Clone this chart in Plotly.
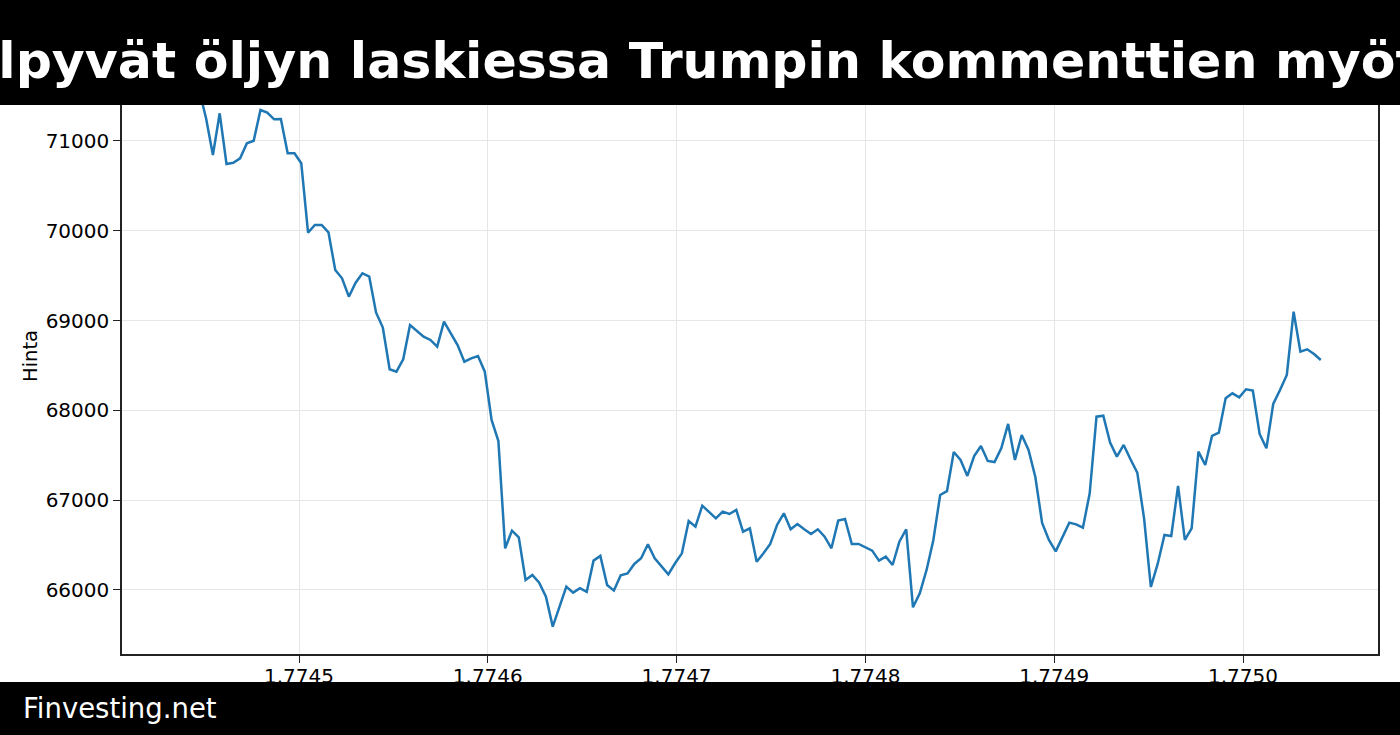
import plotly.graph_objects as go

# ---- data -------------------------------------------------------------
start_ts = 1774436400          # first hourly timestamp (seconds)
step_s = 3600                  # hourly observations
prices = [
    71650, 71840, 71700, 71560, 71250, 70844, 71308, 70744, 70758, 70807,
    70974, 71003, 71345, 71315, 71241, 71245, 70863, 70863, 70752, 69979,
    70065, 70065, 69983, 69563, 69471, 69266, 69422, 69527, 69490, 69090,
    68923, 68458, 68431, 68569, 68951, 68888, 68821, 68784, 68710, 68988,
    68858, 68728, 68542, 68580, 68606, 68431, 67893, 67659, 66464, 66661,
    66587, 66111, 66167, 66082, 65926, 65592, 65814, 66037, 65970, 66019,
    65978, 66327, 66379, 66056, 65993, 66163, 66185, 66290, 66353, 66509,
    66353, 66260, 66174, 66297, 66408, 66768, 66705, 66939, 66872, 66798,
    66872, 66846, 66891, 66649, 66686, 66315, 66408, 66512, 66724, 66854,
    66676, 66735, 66676, 66624, 66676, 66594, 66464, 66772, 66791, 66512,
    66512, 66471, 66438, 66327, 66371, 66278, 66538, 66676, 65807, 65963,
    66223, 66557, 67058, 67100, 67537, 67448, 67270, 67492, 67604, 67437,
    67425, 67581, 67849, 67448, 67726, 67559, 67258, 66746, 66557, 66430,
    66594, 66750, 66731, 66694, 67077, 67930, 67941, 67641, 67485, 67615,
    67455, 67307, 66798, 66033, 66290, 66612, 66601, 67158, 66557, 66687,
    67540, 67392, 67715, 67752, 68134, 68190, 68145, 68235, 68220, 67737,
    67578, 68071, 68227, 68394, 69099, 68654, 68680, 68628, 68561,
]
times = [(start_ts + i * step_s) / 1e9 for i in range(len(prices))]

x_tick_vals = [1.7745, 1.7746, 1.7747, 1.7748, 1.7749, 1.7750]
x_tick_labels = ["1.7745", "1.7746", "1.7747", "1.7748", "1.7749", "1.7750"]
y_tick_vals = [66000, 67000, 68000, 69000, 70000, 71000]
y_tick_labels = ["66000", "67000", "68000", "69000", "70000", "71000"]

title_text = "elpyvät öljyn laskiessa Trumpin kommenttien myötä"
y_label = "Hinta"
source_text = "Finvesting.net"

# ---- layout geometry -------------------------------------------------
W, H = 1400, 735
L, R, T, B = 122, 22, 58, 81
PW, PH = W - L - R, H - T - B


def px_x(px):
    return (px - L) / PW


def px_y(py):
    return (H - B - py) / PH


fig = go.Figure()
fig.add_trace(go.Scatter(
    x=times, y=prices, mode="lines",
    line=dict(color="#1f77b4", width=2.5),
    hoverinfo="skip", showlegend=False,
))

axis_font = dict(family="DejaVu Sans", size=20, color="#000000")

fig.update_layout(
    width=W, height=H,
    margin=dict(l=L, r=R, t=T, b=B, autoexpand=False),
    paper_bgcolor="white", plot_bgcolor="white",
    showlegend=False,
    xaxis=dict(
        range=[1.77440625, 1.7750715],
        tickvals=x_tick_vals, ticktext=x_tick_labels,
        showgrid=True, gridcolor="#e6e6e6", gridwidth=1,
        showline=True, linecolor="#222222", linewidth=1.5, mirror=True,
        ticks="outside", ticklen=7, tickwidth=1.3, tickcolor="#222222",
        tickfont=axis_font, zeroline=False, ticklabelstandoff=-4,
    ),
    yaxis=dict(
        range=[65287, 71924],
        tickvals=y_tick_vals, ticktext=y_tick_labels,
        showgrid=True, gridcolor="#e6e6e6", gridwidth=1,
        showline=True, linecolor="#222222", linewidth=1.5, mirror=True,
        ticks="outside", ticklen=7, tickwidth=1.3, tickcolor="#222222",
        tickfont=axis_font, zeroline=False,
        title=dict(text=y_label, font=dict(family="DejaVu Sans", size=19.5, color="#000000"), standoff=3),
    ),
    shapes=[
        dict(type="rect", xref="paper", yref="paper", layer="above",
             x0=px_x(-5), x1=px_x(W + 5), y0=px_y(105), y1=px_y(-5),
             fillcolor="black", line=dict(width=0)),
        dict(type="rect", xref="paper", yref="paper", layer="above",
             x0=px_x(-5), x1=px_x(W + 5), y0=px_y(H + 5), y1=px_y(682),
             fillcolor="black", line=dict(width=0)),
    ],
    annotations=[
        dict(text=title_text, xref="paper", yref="paper",
             x=px_x(-38), y=px_y(60), xanchor="left", yanchor="middle",
             showarrow=False,
             font=dict(family="DejaVu Sans", size=50.6, color="white", weight="bold")),
        dict(text=source_text, xref="paper", yref="paper",
             x=px_x(21), y=px_y(708), xanchor="left", yanchor="middle",
             showarrow=False,
             font=dict(family="DejaVu Sans", size=27.5, color="white")),
    ],
)

fig.write_html(
    "out.html",
    config={"displayModeBar": False},
    post_script="document.body.style.margin='0';document.body.style.overflow='hidden';",
)
